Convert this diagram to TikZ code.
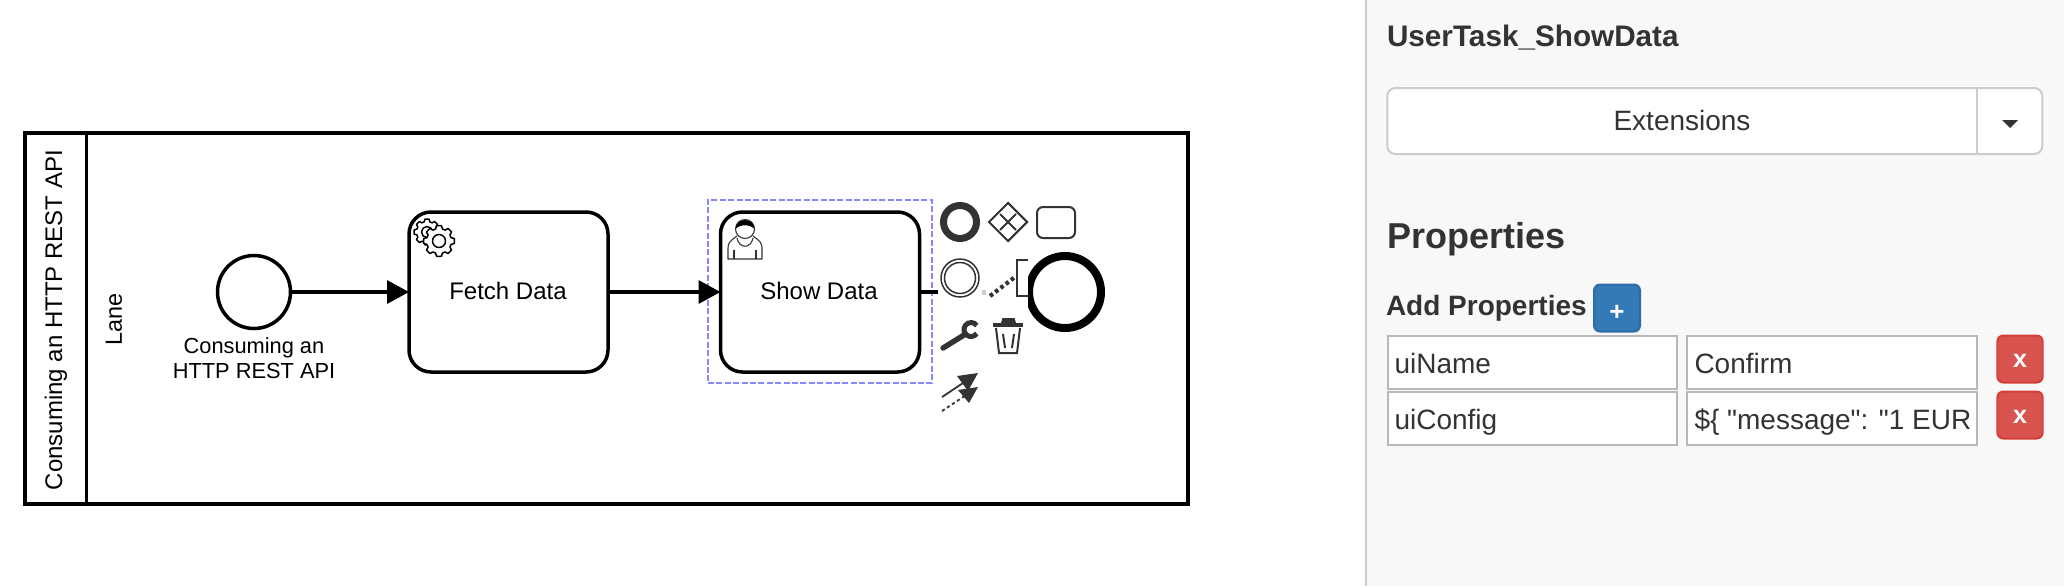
\documentclass[tikz,border=0pt]{standalone}
\usepackage{fontspec}
\setmainfont{Liberation Sans}
\newfontfamily\rawfont{Liberation Sans}
\usetikzlibrary{arrows.meta,shapes.geometric}
\definecolor{ink}{HTML}{333333}
\definecolor{panelbg}{HTML}{F8F8F8}
\definecolor{panelline}{HTML}{CCCCCC}
\definecolor{selblue}{HTML}{8888FF}
\definecolor{btnblue}{HTML}{337AB7}
\definecolor{btnblueb}{HTML}{2E6DA4}
\definecolor{btnred}{HTML}{D9534F}
\definecolor{btnredb}{HTML}{D43F3A}
\newcommand{\fs}[1]{\fontsize{#1}{#1}\selectfont}
\tikzset{
  x=0.5pt,y=-0.5pt,
  bpmntask/.style={draw=black,fill=white,line width=1.75pt,rounded corners=11pt,inner sep=0pt,outer sep=0pt,minimum width=99.5pt,minimum height=80pt,font=\fs{12}},
  flow/.style={draw=black,line width=1.75pt,-{Triangle[length=11pt,width=11.5pt]}},
  plain/.style={inner sep=0pt,outer sep=0pt,font=\fs{12}},
  padline/.style={draw=ink,line width=1pt},
  iconline/.style={draw=ink,line width=0.55pt,line join=round},
  gearline/.style={draw=black,line width=0.75pt,line join=round},
  panelbox/.style={draw=panelline,fill=white,line width=1pt,inner sep=0pt,outer sep=0pt},
  inputbox/.style={panelbox,draw=panelline!90!black,minimum height=26.5pt},
  paneltext/.style={inner sep=0pt,outer sep=0pt,anchor=base west,text=ink,font=\fs{14}},
  panelbold/.style={paneltext,font=\fs{14}\bfseries},
  redbtn/.style={draw=btnredb,fill=btnred,line width=1pt,rounded corners=3pt,inner sep=0pt,minimum width=22.7pt,minimum height=23.5pt},
  btnglyph/.style={inner sep=0pt,outer sep=0pt,anchor=base,text=white,font=\fs{12.5}\bfseries},
}
\newcommand{\gearshape}[5]{% cx cy router rinner rhole
  \begin{scope}[shift={(#1,#2)}]
    \draw[gearline,fill=white] (-16:#4) \foreach \a in {0,45,...,315} { -- ({\a-16}:#4) -- ({\a-9}:#3) -- ({\a+9}:#3) -- ({\a+16}:#4) } -- cycle;
    \draw[gearline] (0,0) circle[radius=#5];
  \end{scope}}
\begin{document}
\begin{tikzpicture}
\useasboundingbox (0,0) rectangle (2064,586);
\fill[white] (0,0) rectangle (2064,586);

% pool
\node[draw=black,line width=1.9pt,inner sep=0pt,minimum width=581.5pt,minimum height=185.5pt,fill=white] (pool) at (606.5,318.5) {};
\coordinate (divtop) at (86.5,133);
\coordinate (divbot) at (86.5,504);
\draw[black,line width=1.75pt] (divtop) -- (divbot);
\node[plain,rotate=90] (pooltitle) at (56,320) {Consuming an HTTP REST API};
\node[plain,rotate=90,font=\fs{11.7}] (lane) at (114,319) {Lane};

% selection
\node[draw=selblue,line width=0.75pt,dash pattern=on 3pt off 1.2pt,inner sep=0pt,minimum width=112pt,minimum height=91.5pt] (sel) at (820,291.5) {};

% elements
\node[draw=black,fill=white,circle,line width=1.75pt,inner sep=0pt,outer sep=0pt,minimum size=36.5pt] (start) at (254,292) {};
\node[plain,font=\fs{10.9},align=center] (startlabel) at (254,358) {Consuming an\\[1.3pt]HTTP REST API};
\node[bpmntask] (fetch) at (508.5,292) {};
\node[plain] (fetchlabel) at (508,291) {Fetch Data};
\node[bpmntask] (show) at (820,292) {};
\node[plain] (showlabel) at (819,291) {Show Data};
\node[draw=black,fill=white,circle,line width=4pt,inner sep=0pt,outer sep=0pt,minimum size=36pt] (endev) at (1065,292) {};

\draw[flow] (start) -- (fetch);
\draw[flow] (fetch) -- (show);
\coordinate (flowend) at (938,292);
\draw[black,line width=1.75pt] (show) -- (flowend);

% gear icon
\gearshape{427}{232}{13}{10.5}{5.5}
\gearshape{439}{241}{15.5}{12.5}{6.5}

% person icon
\draw[iconline] (745,229) circle[radius=9.5];
\fill[black] (735.5,229) .. controls (736,217) and (754,217) .. (754.5,229) .. controls (750,224) and (740,224) .. (735.5,229) -- cycle;
\draw[iconline] (737,236) .. controls (730,241) and (728,243) .. (728,248) -- (728,259) -- (762,259) -- (762,248) .. controls (762,243) and (760,241) .. (753,236);
\draw[iconline] (737,238) .. controls (739,249) and (751,249) .. (753,238);
\draw[iconline] (734,250) -- (734,259) (756,250) -- (756,259);

% context pad white area covers the end of the event
\fill[white] (1000,255) rectangle (1028,330);

% pad row 1
\node[draw=ink,circle,line width=3.5pt,inner sep=0pt,minimum size=16.5pt,fill=white] (padend) at (960,222) {};
\node[draw=ink,diamond,aspect=1,line width=1pt,inner sep=0pt,minimum size=19.5pt,fill=white] (padgate) at (1008,222) {};
\draw[padline] (1000,214) -- (1016,230) (1016,214) -- (1000,230);
\node[draw=ink,line width=1pt,rounded corners=3pt,inner sep=0pt,minimum width=19pt,minimum height=15.5pt,fill=white] (padtask) at (1056,222.5) {};

% pad row 2
\node[draw=ink,circle,line width=0.75pt,inner sep=0pt,minimum size=19pt,fill=white] (padinter) at (960,278) {};
\node[draw=ink,circle,line width=0.75pt,inner sep=0pt,minimum size=15.5pt] (padinterb) at (960,278) {};
\fill[panelline] (982,290) rectangle (986,295);
\coordinate (dota) at (990,296);
\coordinate (dotb) at (1015,277);
\draw[draw=ink,line width=2.1pt,dash pattern=on 1.8pt off 1.5pt] (dota) -- (dotb);
\draw[draw=ink,line width=1.2pt] (1028,260) -- (1017,260) -- (1017,296) -- (1028,296);

% wrench
\draw[draw=ink,line width=2.7pt,line cap=round] (943,348) -- (964,335);
\begin{scope}[shift={(971,329.5)}]
  \draw[draw=ink,line width=2.5pt] (35:7) arc[start angle=35,end angle=325,radius=7];
\end{scope}

% trash
\fill[ink] (1002.5,318) -- (1014.5,318) -- (1016,323) -- (1001,323) -- cycle;
\fill[ink] (993,323) rectangle (1023,326.5);
\draw[padline] (996,328) -- (999,353) -- (1017,353) -- (1020,328);
\draw[draw=ink,line width=1pt] (1003,334) -- (1005,348) (1014,334) -- (1012,348);

% connection arrows
\coordinate (ara) at (942,397);
\coordinate (arb) at (978,373);
\coordinate (arc) at (942,411);
\coordinate (ard) at (978,387);
\draw[draw=ink,line width=0.9pt] (ara) -- (965,381.7);
\fill[ink] (arb) -- (957,376) -- (968,391) -- cycle;
\draw[draw=ink,line width=0.9pt,dash pattern=on 1.6pt off 1.4pt] (arc) -- (965,395.7);
\fill[ink] (ard) -- (958,390) -- (969,403) -- cycle;

% panel
\fill[panelbg] (1365,0) rectangle (2064,586);
\draw[panelline,line width=1pt] (1365.5,0) -- (1365.5,586);

\node[panelbold,font=\fs{14.85}\bfseries] (paneltitle) at (1387,46) {UserTask\_ShowData};
\node[panelbox,rounded corners=4pt,minimum width=327.5pt,minimum height=33pt] (dropdown) at (1714.75,121) {};
\coordinate (ddtop) at (1977,88);
\coordinate (ddbot) at (1977,154);
\draw[panelline,line width=0.75pt] (ddtop) -- (ddbot);
\node[plain,font=\fs{14},text=ink] (ddtext) at (1682,120.5) {Extensions};
\fill[ink] (2002,120) -- (2018,120) -- (2010,128) -- cycle;

\node[panelbold,font=\fs{18}\bfseries] (propshead) at (1387,248) {Properties};
\node[panelbold] (addprops) at (1386,315) {Add Properties};
\node[draw=btnblueb,fill=btnblue,line width=1pt,rounded corners=3pt,inner sep=0pt,minimum width=23pt,minimum height=23.5pt] (plusbtn) at (1617,308) {};
\node[btnglyph,font=\fs{13}\bfseries] (plusglyph) at (1617,320) {+};

\node[inputbox,minimum width=144.5pt] (in1) at (1532,362.5) {};
\node[inputbox,minimum width=145pt] (in2) at (1832,362.5) {};
\node[inputbox,minimum width=144.5pt] (in3) at (1532,418.5) {};
\node[inputbox,minimum width=145pt] (in4) at (1832,418.5) {};
\node[paneltext] (t1) at (1394.5,373) {uiName};
\node[paneltext] (t2) at (1694.5,373) {Confirm};
\node[paneltext] (t3) at (1394.5,429) {uiConfig};
\node[paneltext] (t4) at (1694.5,429) {\rawfont\$\{ "message": "1 EUR};
\node[redbtn] (x1) at (2020,359) {};
\node[redbtn] (x2) at (2020,415) {};
\node[btnglyph] (x1glyph) at (2020,367) {x};
\node[btnglyph] (x2glyph) at (2020,423) {x};
\end{tikzpicture}
\end{document}
